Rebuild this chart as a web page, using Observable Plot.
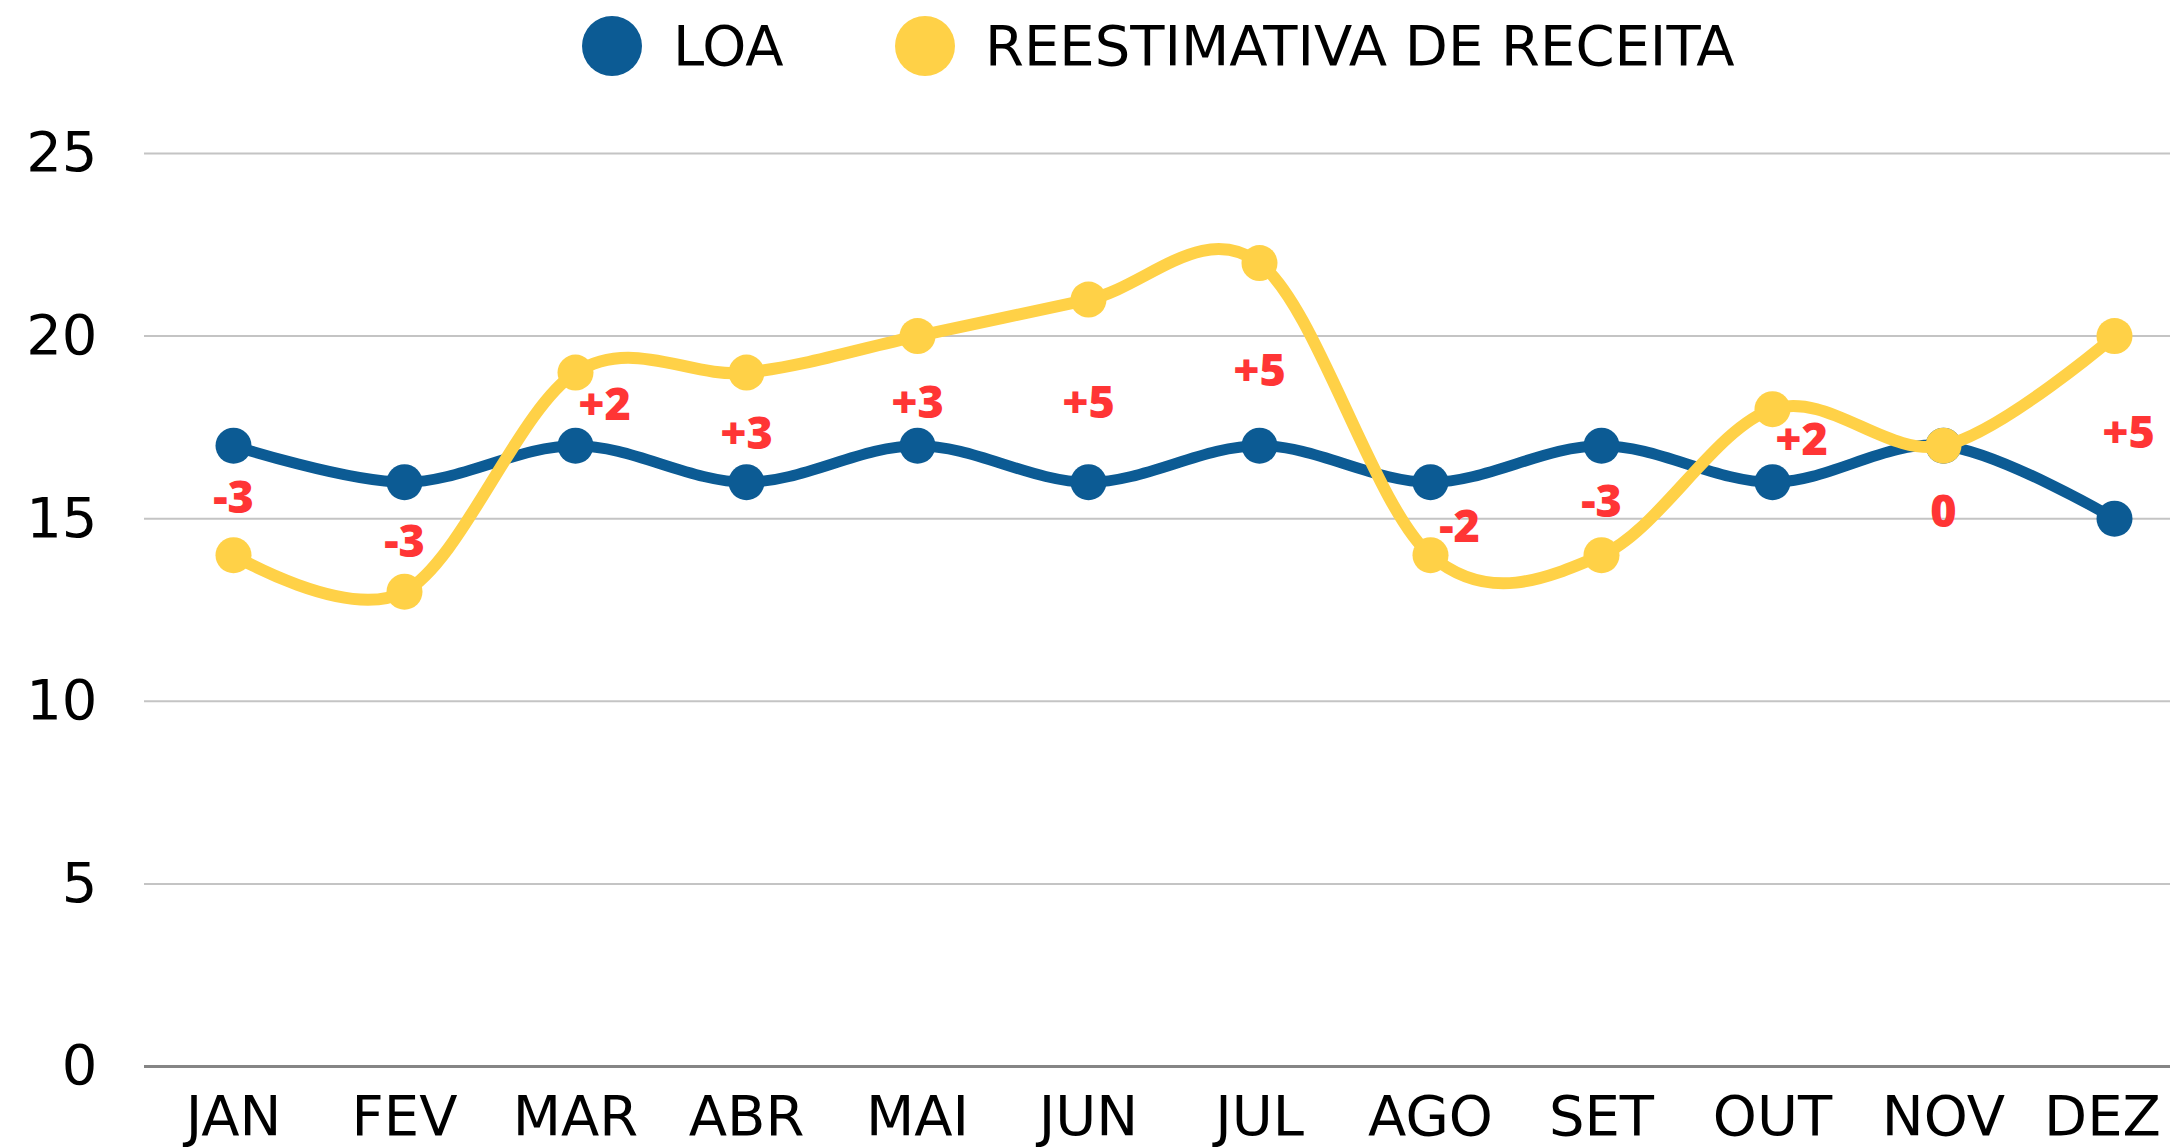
<!DOCTYPE html>
<html>
<head>
<meta charset="utf-8">
<script src="https://cdn.jsdelivr.net/npm/d3@7"></script>
<script src="https://cdn.jsdelivr.net/npm/@observablehq/plot@0.6"></script>
<style>
  html, body { margin: 0; padding: 0; background: #fff; }
  #legend { position: relative; width: 2170px; height: 95px; font-family: "DejaVu Sans", sans-serif; }
  #legend .sw { position: absolute; top: 16px; width: 60px; height: 60px; border-radius: 50%; }
  #legend .lt { position: absolute; top: 46px; transform: translateY(-50%); font-size: 56px; line-height: 1; color: #000; white-space: nowrap; }
  #chart svg { display: block; }
</style>
</head>
<body>
<div id="legend"></div>
<div id="chart"></div>
<script>
// ---- data ----
const months = ["JAN", "FEV", "MAR", "ABR", "MAI", "JUN", "JUL", "AGO", "SET", "OUT", "NOV", "DEZ"];
const loa = [17, 16, 17, 16, 17, 16, 17, 16, 17, 16, 17, 15];
const reestimativa = [14, 13, 19, 19, 20, 21, 22, 14, 14, 18, 17, 20];
const diffLabels = ["-3", "-3", "+2", "+3", "+3", "+5", "+5", "-2", "-3", "+2", "0", "+5"];
const labelLevel = [15.55, 14.35, 18.1, 17.3, 18.16, 18.16, 19.03, 14.75, 15.44, 17.14, 15.17, 17.33];
const yTicks = [0, 5, 10, 15, 20, 25];
const seriesNames = ["LOA", "REESTIMATIVA DE RECEITA"];

const blue = "#0c5b94";
const yellow = "#ffd147";
const red = "#ff3535";

// ---- legend ----
const legend = document.getElementById("legend");
const legendLayout = [
  {color: blue, sw: 582, text: 673},
  {color: yellow, sw: 895, text: 985}
];
seriesNames.forEach((name, i) => {
  const sw = document.createElement("span");
  sw.className = "sw";
  sw.style.left = legendLayout[i].sw + "px";
  sw.style.background = legendLayout[i].color;
  legend.appendChild(sw);
  const t = document.createElement("span");
  t.className = "lt";
  t.style.left = legendLayout[i].text + "px";
  t.textContent = name;
  legend.appendChild(t);
});

// ---- table ----
const data = months.map((m, i) => ({
  month: m,
  loa: loa[i],
  reest: reestimativa[i],
  label: diffLabels[i],
  level: labelLevel[i]
}));

const rightShifted = ["MAR", "AGO", "OUT"];
const lastMonth = months[months.length - 1];
const labelStyle = {fill: red, fontFamily: "'Open Sans', sans-serif", fontWeight: 800, fontSize: 45};

const chart = Plot.plot({
  width: 2170,
  height: 1053,
  marginLeft: 144,
  marginRight: 0,
  marginTop: 58,
  marginBottom: 82,
  style: {fontFamily: "'DejaVu Sans', sans-serif", fontSize: "56px", color: "#000", background: "#fff"},
  x: {type: "point", domain: months, range: [230, 2117], padding: 0},
  y: {domain: [0, 25]},
  marks: [
    Plot.ruleY(yTicks.filter(d => d > 0), {stroke: "#c4c4c4", strokeWidth: 2}),
    Plot.ruleY([0], {stroke: "#858585", strokeWidth: 3}),
    Plot.axisY({ticks: yTicks, tickSize: 0, tickPadding: 47, label: null, fill: "#000"}),
    Plot.axisX({ticks: months.slice(0, -1), tickSize: 0, tickPadding: 29, label: null, fill: "#000"}),
    Plot.axisX({ticks: [lastMonth], tickSize: 0, tickPadding: 29, label: null, fill: "#000", dx: -12}),
    Plot.line(data, {x: "month", y: "loa", stroke: blue, strokeWidth: 11, curve: "cardinal"}),
    Plot.dot(data, {x: "month", y: "loa", r: 18, fill: blue}),
    Plot.line(data, {x: "month", y: "reest", stroke: yellow, strokeWidth: 12, curve: "cardinal"}),
    Plot.dot(data, {x: "month", y: "reest", r: 18, fill: yellow}),
    Plot.text(data.filter(d => !rightShifted.includes(d.month) && d.month !== lastMonth), {x: "month", y: "level", text: "label", ...labelStyle}),
    Plot.text(data.filter(d => rightShifted.includes(d.month)), {x: "month", y: "level", text: "label", dx: 29, ...labelStyle}),
    Plot.text(data.filter(d => d.month === lastMonth), {x: "month", y: "level", text: "label", dx: 14, ...labelStyle})
  ]
});
document.getElementById("chart").appendChild(chart);
</script>
</body>
</html>
